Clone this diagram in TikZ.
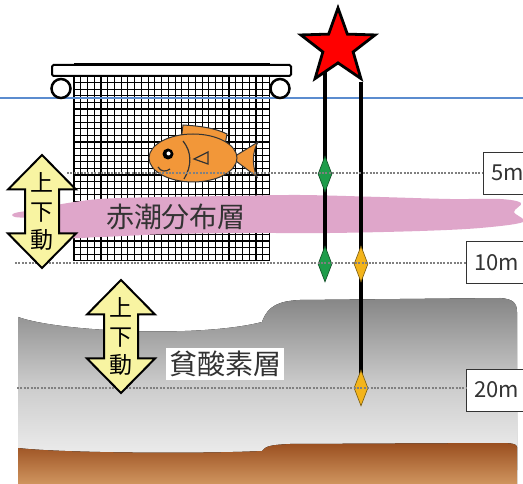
\documentclass[tikz,border=0pt]{standalone}
\usepackage{fontspec}
\setmainfont{Noto Sans CJK JP}
\usetikzlibrary{shapes.geometric}

\definecolor{seablue}{HTML}{5B8CCF}
\definecolor{tidepink}{HTML}{DFA6CA}
\definecolor{fishorange}{HTML}{F29739}
\definecolor{arrowyellow}{HTML}{F8F4A2}
\definecolor{buoygreen}{HTML}{1E9C4A}
\definecolor{buoyyellow}{HTML}{F3B41B}
\definecolor{graytop}{HTML}{868686}
\definecolor{graymid}{HTML}{CBCBCB}
\definecolor{graybot}{HTML}{F3F3F3}
\definecolor{mudtop}{HTML}{9A4F20}
\definecolor{mudbot}{HTML}{D0955F}
\definecolor{inkgray}{HTML}{333333}

\pgfdeclarelayer{front}
\pgfsetlayers{main,front}

\tikzset{
  netline/.style={line width=1.1pt, black},
  depthline/.style={line width=1.3pt, gray, dash pattern=on 2pt off 1.4pt},
  rope/.style={line width=3.2pt, black},
  buoy/.style={diamond, inner sep=0pt, minimum width=14pt, minimum height=36pt,
    draw=#1!50!black, fill=#1, line width=0.6pt},
  depthbox/.style={draw=inkgray, fill=white, line width=0.8pt, anchor=west,
    inner xsep=8pt, minimum height=42pt, font=\fontsize{22}{24}\selectfont, text=inkgray},
  layerlabel/.style={font=\fontsize{28}{30}\selectfont, text=inkgray, inner sep=3pt},
  fishpart/.style={draw=inkgray, fill=fishorange, line width=1pt},
  fishline/.style={draw=inkgray, line width=1.2pt},
  updown/.pic={
    \draw[line width=2pt, fill=arrowyellow, line join=miter]
      (0,-56.5) -- (34,-22) -- (17,-22) -- (17,22) -- (34,22) -- (0,56.5)
      -- (-34,22) -- (-17,22) -- (-17,-22) -- (-34,-22) -- cycle;
    \node[font=\fontsize{23}{28.5}\selectfont, align=center, inner sep=0pt]
      (-txt) at (0,0) {上\\下\\動};
  }
}

\begin{document}
\begin{tikzpicture}[x=1pt, y=-1pt]
  \useasboundingbox (0,0) rectangle (523,484);
  \fill[white] (0,0) rectangle (523,484);

  % Water layers
  \fill[top color=graytop, bottom color=graybot, middle color=graymid]
    (18,317) .. controls (60,332) and (200,338) .. (262,322)
    .. controls (268,305) and (280,301) .. (300,300) -- (500,298)
    .. controls (512,299) and (517,302) .. (517,312) -- (517,470) -- (18,470) -- cycle;
  \fill[top color=mudtop, bottom color=mudbot]
    (18,448) .. controls (60,453) and (200,454) .. (262,451)
    .. controls (266,446) and (270,445) .. (290,444) -- (500,443)
    .. controls (512,443) and (517,444) .. (517,447) -- (517,484) -- (18,484) -- cycle;

  % Net and floats
  \foreach \i in {0,...,29}
    \draw[netline] ({74+\i*6.74},76) -- ({74+\i*6.74},261);
  \foreach \j in {0,...,28}
    \draw[netline] (74,{76+\j*6.6}) -- (269.5,{76+\j*6.6});
  \draw[seablue, line width=1.5pt] (0,98) -- (523,98);
  \draw[line width=2pt, fill=white, rounded corners=1.5pt] (52,65) rectangle (291,76);
  \draw[line width=3pt] (74,64.5) -- (270,64.5);
  \draw[line width=2.5pt, fill=white] (61,88.5) circle[radius=9.5];
  \draw[line width=2.5pt, fill=white] (280,88.5) circle[radius=9.5];

  % Red tide band
  \fill[tidepink] plot[smooth cycle, tension=0.55] coordinates {
    (15,213) (40,209) (62,204) (100,199) (160,197) (230,196) (300,195)
    (380,197) (450,199) (500,199) (521,203) (514,212) (523,222) (480,228)
    (420,231) (330,233) (250,233) (170,234) (100,237) (62,237) (40,220) (15,217)};
  \node[layerlabel] (redtide) at (176,217) {赤潮分布層};
  \node[layerlabel, fill=white] (anoxic) at (225,364) {貧酸素層};

  % Fish
  \draw[fishpart] (181,141) -- (183,125) .. controls (200,126) and (215,128) .. (227,134)
    -- (225,145) -- cycle;
  \draw[fishpart] (232,158) -- (258,142) .. controls (252,152) and (252,166) .. (257,177) -- cycle;
  \draw[fishpart] (193,158) ellipse [x radius=44, y radius=24];
  \fill[black] (168,154) circle[radius=5.5];
  \fill[white] (168.5,153.5) circle[radius=2];
  \draw[fishline] (183,141) .. controls (192,152) and (192,166) .. (184,179);
  \draw[fishline] (194,159) -- (208,152) -- (208,164) -- cycle;
  \draw[fishline] (158,167) .. controls (161,172) and (166,172) .. (170,169);

  \begin{pgfonlayer}{front}
    % Mark buoy and the weights on its lines
    \node[star, star points=5, star point ratio=2.45, minimum size=78pt, inner sep=0pt,
      draw, line width=2.8pt, fill=red] (mark) at (338,47) {};
    \node[buoy=buoygreen] (g5) at (325,174) {};
    \node[buoy=buoygreen] (g10) at (325,264) {};
    \node[buoy=buoyyellow] (y10) at (361,264) {};
    \node[buoy=buoyyellow] (y20) at (361,388) {};

    % Depths
    \node[depthbox] (d5) at (483,173) {5m};
    \node[depthbox] (d10) at (466,262.5) {10m};
    \node[depthbox] (d20) at (466,390) {20m};
    \coordinate (s5) at (67,173);
    \coordinate (s10) at (15,263);
    \coordinate (s20) at (17,388);
    \draw[depthline] (s5) -- (s5 -| d5.west);
    \draw[depthline] (s10) -- (s10 -| d10.west);
    \draw[depthline] (s20) -- (s20 -| d20.west);

    % Up-down arrows
    \pic (ud1) at (42,211.5) {updown};
    \pic (ud2) at (121,336.5) {updown};
  \end{pgfonlayer}

  % Lines hang under the mark
  \draw[rope] (mark.south -| g10) -- (g10.center);
  \draw[rope] (mark.outer point 4 -| y20) -- (y20.center);
\end{tikzpicture}
\end{document}
